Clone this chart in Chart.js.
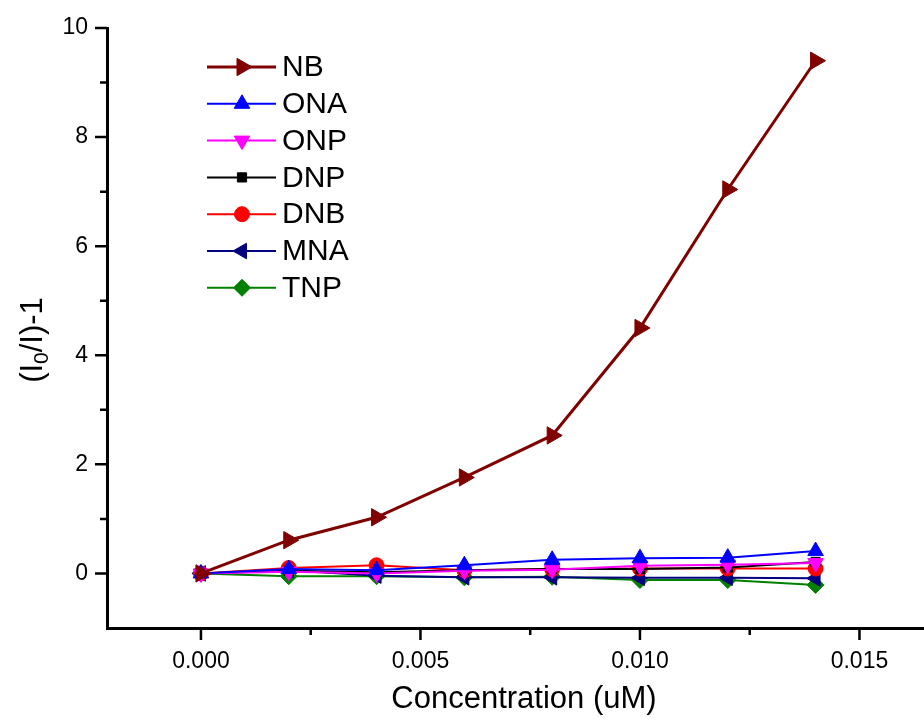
<!DOCTYPE html>
<html>
<head>
<meta charset="utf-8">
<script src="https://cdn.jsdelivr.net/npm/chart.js@4"></script>
<style>
  html, body { margin: 0; padding: 0; background: #fff; }
  #wrap { width: 924px; height: 724px; }
</style>
</head>
<body>
<div id="wrap"><canvas id="myChart" width="924" height="724"></canvas></div>
<script>
// concentration (uM)
const conc = [0, 0.002, 0.004, 0.006, 0.008, 0.010, 0.012, 0.014];

// (I0/I)-1 for each analyte
const nb  = [0, 0.61, 1.03, 1.76, 2.53, 4.50, 7.04, 9.40];
const ona = [0, 0.08, 0.06, 0.15, 0.25, 0.28, 0.29, 0.41];
const onp = [0, 0.03, 0.00, 0.05, 0.07, 0.14, 0.16, 0.19];
const dnp = [0, 0.05, 0.02, 0.06, 0.08, 0.08, 0.11, 0.21];
const dnb = [0, 0.10, 0.15, 0.06, 0.08, 0.09, 0.09, 0.09];
const mna = [0, 0.06, -0.04, -0.07, -0.07, -0.08, -0.08, -0.09];
const tnp = [0, -0.05, -0.05, -0.07, -0.06, -0.12, -0.12, -0.21];

const labels = ['NB', 'ONA', 'ONP', 'DNP', 'DNB', 'MNA', 'TNP'];

const xMajor = [0, 0.005, 0.010, 0.015];
const xMinor = [0.0025, 0.0075, 0.0125];
const yMajor = [0, 2, 4, 6, 8, 10];
const yMinor = [1, 3, 5, 7, 9];

function series(label, values, color, style, rotation, radius, width) {
    return {
        label: label,
        data: conc.map((x, i) => ({ x: x, y: values[i] })),
        borderColor: color,
        backgroundColor: color,
        borderWidth: width,
        pointStyle: style,
        rotation: rotation,
        pointRadius: radius,
        pointBorderWidth: 1,
        fill: false,
        tension: 0
    };
}

const datasets = [
    series(labels[0], nb,  '#800000', 'triangle', 90, 10, 3),
    series(labels[1], ona, '#0000ff', 'triangle', 0, 9, 2),
    series(labels[2], onp, '#ff00ff', 'triangle', 180, 9, 2),
    series(labels[3], dnp, '#000000', 'rect', 0, 6.5, 2),
    series(labels[4], dnb, '#ff0000', 'circle', 0, 7.5, 2),
    series(labels[5], mna, '#000080', 'triangle', -90, 9, 2),
    series(labels[6], tnp, '#008000', 'rectRot', 0, 8.5, 2)
];

const FONT = '"Liberation Sans", Arial, sans-serif';

const extras = {
    id: 'extras',
    afterDraw(chart) {
        const ctx = chart.ctx;
        const xs = chart.scales.x, ys = chart.scales.y;
        const area = chart.chartArea;
        ctx.save();
        ctx.strokeStyle = '#000';
        ctx.lineWidth = 2.5;
        ctx.beginPath();
        xMajor.forEach(v => { const p = xs.getPixelForValue(v); ctx.moveTo(p, area.bottom); ctx.lineTo(p, area.bottom + 12); });
        xMinor.forEach(v => { const p = xs.getPixelForValue(v); ctx.moveTo(p, area.bottom); ctx.lineTo(p, area.bottom + 7); });
        yMajor.forEach(v => { const p = ys.getPixelForValue(v); ctx.moveTo(area.left, p); ctx.lineTo(area.left - 12, p); });
        yMinor.forEach(v => { const p = ys.getPixelForValue(v); ctx.moveTo(area.left, p); ctx.lineTo(area.left - 7, p); });
        ctx.stroke();

        // axis titles
        ctx.fillStyle = '#000';
        ctx.font = '31px ' + FONT;
        ctx.textAlign = 'center';
        ctx.textBaseline = 'middle';
        ctx.fillText('Concentration (uM)', 524, 699);

        ctx.save();
        ctx.translate(33, 340);
        ctx.rotate(-Math.PI / 2);
        ctx.textAlign = 'left';
        const parts = [['(I', 0], ['0', 1], ['/I)-1', 0]];
        let total = 0;
        parts.forEach(p => {
            ctx.font = (p[1] ? '21px ' : '31px ') + FONT;
            total += ctx.measureText(p[0]).width;
        });
        let cx = -total / 2;
        parts.forEach(p => {
            ctx.font = (p[1] ? '21px ' : '31px ') + FONT;
            ctx.fillText(p[0], cx, p[1] ? 9 : 0);
            cx += ctx.measureText(p[0]).width;
        });
        ctx.restore();

        // legend
        ctx.font = '30px ' + FONT;
        ctx.textAlign = 'left';
        chart.data.datasets.forEach((ds, i) => {
            const y = 67 + i * 36.8;
            ctx.strokeStyle = ds.borderColor;
            ctx.lineWidth = ds.borderWidth;
            ctx.beginPath();
            ctx.moveTo(207, y);
            ctx.lineTo(276, y);
            ctx.stroke();
            ctx.fillStyle = ds.backgroundColor;
            ctx.strokeStyle = ds.borderColor;
            ctx.lineWidth = 1;
            Chart.helpers.drawPoint(ctx, {
                pointStyle: ds.pointStyle, rotation: ds.rotation,
                radius: ds.pointRadius, borderWidth: 1
            }, 242, y);
            ctx.fillStyle = '#000';
            ctx.fillText(ds.label, 282, y + 1);
        });
        ctx.restore();
    }
};

function noPad(s) {
    s.paddingLeft = 0; s.paddingRight = 0; s.paddingTop = 0; s.paddingBottom = 0;
}

const ctx = document.getElementById('myChart').getContext('2d');
new Chart(ctx, {
    type: 'line',
    data: { datasets: datasets },
    options: {
        responsive: false,
        animation: false,
        layout: { autoPadding: false, padding: { top: 28, right: 0, left: 0, bottom: 0 } },
        plugins: { legend: { display: false }, tooltip: { enabled: false } },
        scales: {
            x: {
                type: 'linear',
                min: -0.00214,
                max: 0.01647,
                afterFit: s => { s.height = 96; noPad(s); },
                afterBuildTicks: s => { s.ticks = xMajor.map(v => ({ value: v })); },
                border: { display: true, color: '#000', width: 3 },
                grid: { display: false, drawTicks: false },
                ticks: {
                    color: '#000',
                    padding: 20,
                    maxRotation: 0,
                    font: { family: FONT, size: 23 },
                    callback: v => v.toFixed(3)
                }
            },
            y: {
                type: 'linear',
                min: -1,
                max: 10,
                afterFit: s => { s.width = 107; noPad(s); },
                afterBuildTicks: s => { s.ticks = yMajor.map(v => ({ value: v })); },
                border: { display: true, color: '#000', width: 3 },
                grid: { display: false, drawTicks: false },
                ticks: {
                    color: '#000',
                    padding: 19,
                    font: { family: FONT, size: 23 },
                    callback: v => String(v)
                }
            }
        }
    },
    plugins: [extras]
});
</script>
</body>
</html>
